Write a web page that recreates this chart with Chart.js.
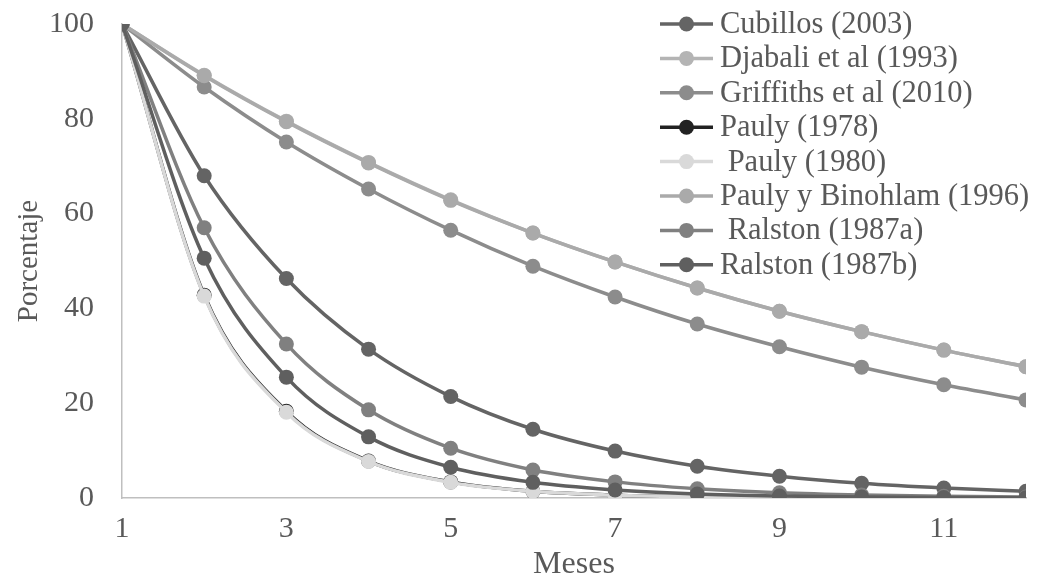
<!DOCTYPE html>
<html>
<head>
<meta charset="utf-8">
<script src="https://cdn.jsdelivr.net/npm/chart.js@4"></script>
<style>
  html, body { margin: 0; padding: 0; background: #fff; }
  #wrap { width: 1045px; height: 579px; }
</style>
</head>
<body>
<div id="wrap"><canvas id="survivalChart"></canvas></div>
<script>
// ===========================
// Data
// ===========================
const months = [1, 2, 3, 4, 5, 6, 7, 8, 9, 10, 11, 12];
const xTicks = [1, 3, 5, 7, 9, 11];
const yTicks = [0, 20, 40, 60, 80, 100];

const seriesNames = [
    "Cubillos (2003)",
    "Djabali et al (1993)",
    "Griffiths et al (2010)",
    "Pauly (1978)",
    " Pauly (1980)",
    "Pauly y Binohlam (1996)",
    " Ralston (1987a)",
    "Ralston (1987b)"
];

const cubillos   = [100, 68.0, 46.3, 31.4, 21.4, 14.5, 9.9, 6.7, 4.6, 3.1, 2.1, 1.4];
const djabali    = [100, 89.2, 79.5, 70.8, 62.9, 55.9, 49.8, 44.3, 39.4, 35.1, 31.2, 27.7];
const griffiths  = [100, 86.7, 75.1, 65.2, 56.5, 48.9, 42.4, 36.7, 31.9, 27.6, 23.9, 20.7];
const pauly1978  = [100, 42.8, 18.3, 7.8, 3.4, 1.4, 0.6, 0.26, 0.11, 0.05, 0.02, 0.01];
const pauly1980  = [100, 42.6, 18.1, 7.7, 3.3, 1.4, 0.6, 0.25, 0.1, 0.05, 0.02, 0.01];
const binohlam   = [100, 89.1, 79.4, 70.7, 62.8, 55.9, 49.8, 44.3, 39.4, 35.1, 31.2, 27.7];
const ralstonA   = [100, 57.0, 32.5, 18.6, 10.5, 5.9, 3.4, 1.95, 1.1, 0.63, 0.36, 0.2];
const ralstonB   = [100, 50.6, 25.5, 12.9, 6.5, 3.3, 1.7, 0.84, 0.42, 0.21, 0.11, 0.05];

const seriesValues = [cubillos, djabali, griffiths, pauly1978, pauly1980, binohlam, ralstonA, ralstonB];
const seriesColors = ["#646464", "#b4b4b4", "#8c8c8c", "#222222", "#d9d9d9", "#aaaaaa", "#808080", "#5f5f5f"];

const FONT = "'Liberation Serif', 'Times New Roman', serif";
const TEXT = "#595959";
const AXIS = "#bfbfbf";


// ===========================================
// Legend drawn inside the plot, top right side
// ===========================================
const insideLegend = {
    id: "insideLegend",
    afterDraw(chart) {
        const ctx = chart.ctx;
        const x0 = 660, lineLen = 53, textX = 720;
        const y0 = 24, step = 34.4;
        ctx.save();
        ctx.font = "30.5px " + FONT;
        ctx.textBaseline = "middle";
        ctx.textAlign = "left";
        chart.data.datasets.forEach((ds, i) => {
            const y = y0 + i * step;
            ctx.strokeStyle = ds.borderColor;
            ctx.lineWidth = 3.5;
            ctx.beginPath();
            ctx.moveTo(x0, y);
            ctx.lineTo(x0 + lineLen, y);
            ctx.stroke();
            ctx.fillStyle = ds.pointBackgroundColor;
            ctx.beginPath();
            ctx.arc(x0 + lineLen / 2, y, 7.5, 0, Math.PI * 2);
            ctx.fill();
            ctx.fillStyle = TEXT;
            ctx.fillText(ds.label, textX, y + 1);
        });
        ctx.restore();
    }
};


const datasets = seriesNames.map((name, i) => ({
    label: name,
    data: months.map((m, j) => ({ x: m, y: seriesValues[i][j] })),
    borderColor: seriesColors[i],
    backgroundColor: seriesColors[i],
    pointBackgroundColor: seriesColors[i],
    pointBorderWidth: 0,
    pointRadius: 7.5,
    borderWidth: 3.5,
    cubicInterpolationMode: "monotone",
    // later series sit on top, like the original
    order: seriesNames.length - i
}));

new Chart(document.getElementById("survivalChart"), {
    type: "line",
    data: { datasets },
    options: {
        responsive: true,
        maintainAspectRatio: false,
        animation: false,
        layout: { padding: { top: 24, right: 19, left: 0, bottom: 0 } },
        plugins: {
            legend: { display: false },
            tooltip: { enabled: false }
        },
        scales: {
            x: {
                type: "linear",
                min: 1,
                max: 12,
                afterBuildTicks: axis => { axis.ticks = xTicks.map(v => ({ value: v })); },
                afterFit: axis => { axis.height = 81; },
                grid: { display: false, drawTicks: false },
                border: { color: AXIS, width: 1.5 },
                ticks: { color: TEXT, font: { family: FONT, size: 30 }, padding: 13, maxRotation: 0 },
                title: {
                    display: true,
                    text: "Meses",
                    color: TEXT,
                    font: { family: FONT, size: 32 },
                    padding: { top: 0, bottom: -5 }
                }
            },
            y: {
                min: 0,
                max: 100,
                afterBuildTicks: axis => { axis.ticks = yTicks.map(v => ({ value: v })); },
                afterFit: axis => {
                    axis.width = 122;
                    // keep the tick padding from pushing the plot down
                    axis.paddingTop = 0;
                    axis.paddingBottom = 0;
                },
                grid: { display: false, drawTicks: false },
                border: { color: AXIS, width: 1.5 },
                ticks: { color: TEXT, font: { family: FONT, size: 30 }, padding: 28 },
                title: {
                    display: true,
                    text: "Porcentaje",
                    color: TEXT,
                    font: { family: FONT, size: 29 },
                    padding: { top: 12, bottom: 0 }
                }
            }
        }
    },
    plugins: [insideLegend]
});
</script>
</body>
</html>
